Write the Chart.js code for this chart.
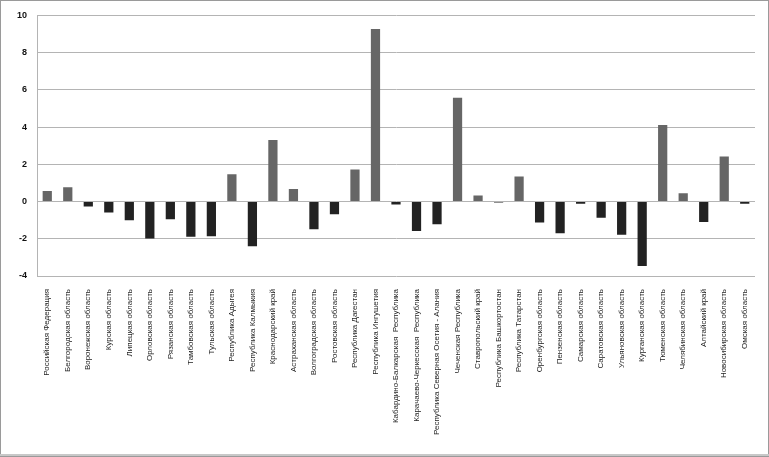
<!DOCTYPE html>
<html>
<head>
<meta charset="utf-8">
<script src="https://cdn.jsdelivr.net/npm/chart.js@4"></script>
<style>
    html, body { margin: 0; padding: 0; background: #fff; }
    #wrap { width: 769px; height: 457px; }
</style>
</head>
<body>
<div id="wrap"><canvas id="myChart" width="769" height="457"></canvas></div>
<script>
const regions = [
    "Российская Федерация", "Белгородская область", "Воронежская область", "Курская область",
    "Липецкая область", "Орловская область", "Рязанская область", "Тамбовская область",
    "Тульская область", "Республика Адыгея", "Республика Калмыкия", "Краснодарский край",
    "Астраханская область", "Волгоградская область", "Ростовская область", "Республика Дагестан",
    "Республика Ингушетия", "Кабардино-Балкарская  Республика", "Карачаево-Черкесская  Республика",
    "Республика Северная Осетия - Алания", "Чеченская Республика", "Ставропольский край",
    "Республика Башкортостан", "Республика Татарстан", "Оренбургская область", "Пензенская область",
    "Самарская область", "Саратовская область", "Ульяновская область", "Курганская область",
    "Тюменская область", "Челябинская область", "Алтайский край", "Новосибирская область",
    "Омская область"
];

const values = [
    0.56, 0.77, -0.26, -0.59, -1.0, -1.98, -0.95, -1.89,
    -1.86, 1.46, -2.4, 3.31, 0.68, -1.49, -0.68, 1.72,
    9.27, -0.16, -1.58, -1.22, 5.57, 0.33, -0.05, 1.34,
    -1.13, -1.7, -0.12, -0.87, -1.78, -3.46, 4.11, 0.44,
    -1.1, 2.42, -0.12
];

const yTicks = [-4, -2, 0, 2, 4, 6, 8, 10];

// positive bars are grey, negative ones near black
const barColors = values.map(v => v >= 0 ? "#666666" : "#222222");

// thin grey frame around the whole picture
const framePlugin = {
    id: "frame",
    afterDraw(chart) {
        const ctx = chart.ctx;
        ctx.save();
        ctx.strokeStyle = "#9a9a9a";
        ctx.lineWidth = 1;
        ctx.strokeRect(0.5, 0.5, chart.width - 1, chart.height - 1);
        ctx.strokeStyle = "#c8c8c8";
        ctx.lineWidth = 2;
        ctx.beginPath();
        ctx.moveTo(0, chart.height - 2);
        ctx.lineTo(chart.width, chart.height - 2);
        ctx.stroke();
        ctx.restore();
    }
};

const ctx = document.getElementById("myChart").getContext("2d");
new Chart(ctx, {
    type: "bar",
    data: {
        labels: regions,
        datasets: [
            {
                data: values,
                backgroundColor: barColors,
                borderWidth: 0,
                barPercentage: 0.45,
                categoryPercentage: 1.0
            }
        ]
    },
    options: {
        responsive: false,
        animation: false,
        layout: {
            padding: {top: 10, left: 8, right: 14, bottom: 0}
        },
        plugins: {
            legend: {display: false},
            tooltip: {enabled: false}
        },
        scales: {
            x: {
                grid: {display: false},
                border: {display: false},
                ticks: {
                    autoSkip: false,
                    minRotation: 90,
                    maxRotation: 90,
                    padding: 5,
                    color: "#222",
                    font: {family: "'Liberation Sans', Arial, sans-serif", size: 8}
                },
                afterFit: (scale) => { scale.height = 181; }
            },
            y: {
                min: -4,
                max: 10,
                afterBuildTicks: (scale) => {
                    scale.ticks = yTicks.map(v => ({value: v}));
                },
                grid: {color: "#b4b4b4", lineWidth: 1, drawTicks: false},
                border: {display: true, color: "#b4b4b4"},
                ticks: {
                    padding: 10,
                    color: "#111",
                    font: {family: "'Liberation Sans', Arial, sans-serif", size: 9, weight: "bold"}
                },
                afterFit: (scale) => { scale.width = 29; }
            }
        }
    },
    plugins: [framePlugin]
});
</script>
</body>
</html>
